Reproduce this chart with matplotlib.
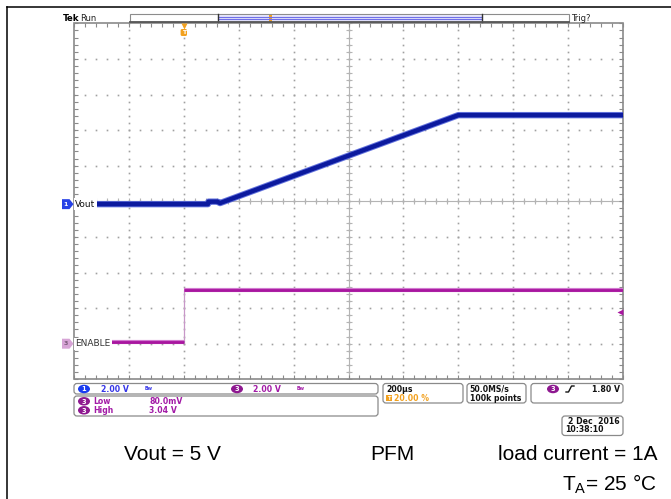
import numpy as np
import matplotlib
matplotlib.use("Agg")
import matplotlib.pyplot as plt
from matplotlib.patches import FancyBboxPatch, Rectangle, Ellipse, Polygon
from matplotlib.transforms import blended_transform_factory

plt.rcParams["mathtext.fontset"] = "custom"
plt.rcParams["mathtext.rm"] = "Liberation Sans"

# scope settings
TIME_DIV_US = 200.0          # horizontal scale
TRIG_POS = 0.20              # trigger position (fraction of record)
CH1_SCALE = 2.0              # V/div, Vout
CH1_OFFSET = -0.08           # ground position in div
CH3_SCALE = 2.0              # V/div, ENABLE
CH3_OFFSET = -4.0
TRIG_LEVEL = 1.80            # V on ch3

# Vout (ch1) waveform breakpoints
VOUT_T_US = [-400, 88, 90, 122, 132, 1000, 1600]
VOUT_V = [0.0, 0.0, 0.14, 0.14, 0.06, 5.0, 5.0]

# ENABLE (ch3) waveform breakpoints
EN_T_US = [-400, 0, 0, 1600]
EN_V = [0.08, 0.08, 3.04, 3.04]

EN_LOW_MEAS = "80.0mV"
EN_HIGH_MEAS = "3.04 V"

W, H = 671, 499
fig = plt.figure(figsize=(W / 100, H / 100), dpi=100)

# graticule area in pixels
GX0, GX1, GY0, GY1 = 74, 623, 23.3, 379.3
ax = fig.add_axes([GX0 / W, 1 - GY1 / H, (GX1 - GX0) / W, (GY1 - GY0) / H])
t0 = -TRIG_POS * 10 * TIME_DIV_US
t1 = t0 + 10 * TIME_DIV_US
ax.set_xlim(t0, t1)
ax.set_ylim(-5, 5)
ax.set_axis_off()

gcol = "#a0a0a0"
xmaj = t0 + TIME_DIV_US * np.arange(11)
xmin = t0 + TIME_DIV_US / 5 * np.arange(51)
ymaj = np.arange(-5, 6)
ymin = np.arange(-25, 26) / 5

# dotted major gridlines
for x in xmaj[1:-1]:
    ax.plot(np.full(len(ymin), x), ymin, ls="none", marker="s", ms=1.2,
            mec="none", mfc=gcol, zorder=1)
for y in ymaj[1:-1]:
    ax.plot(xmin, np.full(len(xmin), y), ls="none", marker="s", ms=1.2,
            mec="none", mfc=gcol, zorder=1)

# centre cross with minor ticks
ccol = "#b4b4b4"
ax.axvline(xmaj[5], color=ccol, lw=0.8, zorder=1)
ax.axhline(0, color=ccol, lw=0.8, zorder=1)
ax.plot(xmin, np.zeros(len(xmin)), ls="none", marker="|", ms=4, mew=0.8,
        color=ccol, zorder=1)
ax.plot(np.full(len(ymin), xmaj[5]), ymin, ls="none", marker="_", ms=5,
        mew=0.8, color=ccol, zorder=1)

# border with inward ticks
bcol = "#8a8a8a"
ax.add_patch(Rectangle((t0, -5), t1 - t0, 10, fill=False, ec=bcol, lw=1.2,
                       zorder=2, clip_on=False))
ax.plot(xmin, np.full(len(xmin), 5), ls="none", marker=3, ms=3, mew=0.8,
        color=bcol, clip_on=False)
ax.plot(xmin, np.full(len(xmin), -5), ls="none", marker=2, ms=3, mew=0.8,
        color=bcol, clip_on=False)
ax.plot(np.full(len(ymin), t0), ymin, ls="none", marker=1, ms=3, mew=0.8,
        color=bcol, clip_on=False)
ax.plot(np.full(len(ymin), t1), ymin, ls="none", marker=0, ms=3, mew=0.8,
        color=bcol, clip_on=False)

# traces
vout_div = np.array(VOUT_V) / CH1_SCALE + CH1_OFFSET
en_div = np.array(EN_V) / CH3_SCALE + CH3_OFFSET
blue, blue_lt = "#0c1a9e", "#3f52d6"
mag, mag_lt = "#a8169f", "#d27ad0"

ax.plot(VOUT_T_US, vout_div, color=blue_lt, lw=4.6, alpha=0.8,
        solid_capstyle="butt", zorder=4)
ax.plot(VOUT_T_US, vout_div, color=blue, lw=3.2, solid_capstyle="butt",
        zorder=5)

ax.plot(EN_T_US, en_div, color="#c898c8", lw=0.9, zorder=4)
for sl in (slice(0, 2), slice(2, 4)):
    ax.plot(EN_T_US[sl], en_div[sl], color=mag_lt, lw=3.0,
            solid_capstyle="butt", zorder=4)
    ax.plot(EN_T_US[sl], en_div[sl], color=mag, lw=2.0,
            solid_capstyle="butt", zorder=5)

# overlay in pixel coordinates
ov = fig.add_axes([0, 0, 1, 1], zorder=3)
ov.set_xlim(0, W)
ov.set_ylim(H, 0)
ov.set_axis_off()
ov.patch.set_visible(False)
py = blended_transform_factory(ov.transData, ax.transData)

# frame lines
ov.plot([7, W], [7, 7], color="black", lw=1.1)
ov.plot([7, 7], [7, H], color="black", lw=1.1)

sfont = dict(family="DejaVu Sans", fontsize=5.6, fontweight="bold")

# top status line
ov.text(63, 18.5, "Tek", color="black", va="center", ha="left",
        family="DejaVu Sans", fontsize=6.2, fontweight="bold")
ov.text(80, 18.5, "Run", color="#222222", va="center", ha="left",
        family="DejaVu Sans", fontsize=6.0)
ov.text(571, 18.5, "Trig?", color="#222222", va="center", ha="left",
        family="DejaVu Sans", fontsize=6.0)
ov.add_patch(Rectangle((130, 14), 439, 8, fc="white", ec="#8c8c8c", lw=0.8))
ov.add_patch(Rectangle((218, 14.5), 264, 7, fc="#e4e4fb", ec="none"))
ov.plot([218, 482], [16.8, 16.8], color="#6f6fe8", lw=0.8)
ov.plot([218, 482], [19.3, 19.3], color="#6f6fe8", lw=0.8)
ov.plot([218, 218], [14, 22], color="#333333", lw=1.0)
ov.plot([482, 482], [14, 22], color="#333333", lw=1.0)
ov.plot([130, 569], [22, 22], color="#555555", lw=1.3)
ov.add_patch(Rectangle((268.5, 14.5), 3, 7, fc="#f2a11f", ec="none"))

# trigger position marker
trig_x = GX0 + (GX1 - GX0) * TRIG_POS
ov.plot([trig_x], [26.2], marker="v", ms=4.2, color="#f2a11f", mec="none")
ov.add_patch(FancyBboxPatch((trig_x - 3.2, 29), 6.4, 7,
                            boxstyle="round,pad=0,rounding_size=1.5",
                            fc="#f2a11f", ec="none"))
ov.text(trig_x, 32.6, "T", color="white", ha="center", va="center",
        family="DejaVu Sans", fontsize=4.5, fontweight="bold")


def ground_tag(y_div, fc, tc, num):
    """Channel ground marker: tag with a point on the left screen edge."""
    h = 0.14
    ov.add_patch(Polygon([(62, y_div - h), (69.5, y_div - h), (73.5, y_div),
                          (69.5, y_div + h), (62, y_div + h)], closed=True,
                         fc=fc, ec="none", transform=py, zorder=6))
    ov.text(66, y_div, num, color=tc, ha="center", va="center",
            transform=py, family="DejaVu Sans", fontsize=4.5,
            fontweight="bold", zorder=7)


ground_tag(CH1_OFFSET, "#2540e6", "white", "1")
ground_tag(CH3_OFFSET, "#d7a4d6", "#7a5a7a", "3")
ov.text(75, CH1_OFFSET, "Vout", color="#111111", ha="left", va="center",
        transform=py, family="DejaVu Sans", fontsize=6.5, zorder=7,
        bbox=dict(boxstyle="square,pad=0.15", fc="white", ec="none"))
ov.text(75, CH3_OFFSET, "ENABLE", color="#333333", ha="left", va="center",
        transform=py, family="DejaVu Sans", fontsize=6.5, zorder=7,
        bbox=dict(boxstyle="square,pad=0.15", fc="white", ec="none"))

# trigger level marker
ov.plot([619.5], [CH3_OFFSET + TRIG_LEVEL / CH3_SCALE], transform=py,
        marker="<", ms=3.8, color=mag, mec="none")


def rbox(x0, y0, x1, y1):
    ov.add_patch(FancyBboxPatch((x0, y0), x1 - x0, y1 - y0,
                                boxstyle="round,pad=0,rounding_size=3",
                                fc="white", ec="#8a8a8a", lw=0.9))


def badge(x, y, fc, num):
    ov.add_patch(Ellipse((x, y), 12, 8.5, fc=fc, ec="none"))
    ov.text(x, y + 0.3, num, color="white", ha="center", va="center",
            family="DejaVu Sans", fontsize=4.8, fontweight="bold")


# readout boxes
ch1c, ch3c, orng = "#3535e8", "#a21aa6", "#f2a11f"
rbox(74, 383.5, 378, 394)
badge(84, 389, "#1a3cf0", "1")
ov.text(101, 389, "2.00 V", color=ch1c, va="center", **sfont)
ov.text(145, 389, "Bw", color=ch1c, va="center", family="DejaVu Sans",
        fontsize=3.4, fontweight="bold")
badge(237, 389, "#8e1890", "3")
ov.text(253, 389, "2.00 V", color=ch3c, va="center", **sfont)
ov.text(297, 389, "Bw", color=ch3c, va="center", family="DejaVu Sans",
        fontsize=3.4, fontweight="bold")

rbox(74, 396, 378, 416)
badge(84, 401.3, "#8e1890", "3")
ov.text(93, 401.3, "Low", color=ch3c, va="center", **sfont)
ov.text(149, 401.3, EN_LOW_MEAS, color=ch3c, va="center", **sfont)
badge(84, 410.3, "#8e1890", "3")
ov.text(93, 410.3, "High", color=ch3c, va="center", **sfont)
ov.text(149, 410.3, EN_HIGH_MEAS, color=ch3c, va="center", **sfont)

rbox(383, 383.5, 463, 403)
ov.text(386, 389, "200µs", color="#111111", va="center", **sfont)
ov.add_patch(Rectangle((386, 394.8), 5.5, 6.5, fc=orng, ec="none"))
ov.text(388.8, 398.2, "T", color="white", ha="center", va="center",
        family="DejaVu Sans", fontsize=3.8, fontweight="bold")
ov.text(394, 398.2, "20.00 %", color=orng, va="center", **sfont)

rbox(467, 383.5, 526, 403)
ov.text(469.5, 389, "50.0MS/s", color="#111111", va="center", **sfont)
ov.text(469.5, 398.2, "100k points", color="#111111", va="center", **sfont)

rbox(531, 383.5, 623, 403)
badge(553, 389, "#8e1890", "3")
ov.plot([566, 568.5, 571.5, 574], [392, 392, 386, 386], color="#111111",
        lw=1.0)
ov.text(620, 389, "1.80 V", color="#111111", ha="right", va="center",
        **sfont)

rbox(562, 416, 623, 435.5)
ov.text(620, 421.8, "2 Dec  2016", color="#111111", ha="right",
        va="center", **sfont)
ov.text(565, 430, "10:38:10", color="#111111", ha="left", va="center",
        **sfont)

# test conditions
cfont = dict(family="Liberation Sans", fontsize=15, color="black",
             va="center")
ov.text(124, 454, "Vout = 5 V", ha="left", **cfont)
ov.text(370, 454, "PFM", ha="left", **cfont)
ov.text(657, 454, "load current = 1A", ha="right", **cfont)
ov.text(657, 484, r"T$_\mathrm{A}$= 25 °C", ha="right", **cfont)

fig.savefig("out.png", dpi=100)
